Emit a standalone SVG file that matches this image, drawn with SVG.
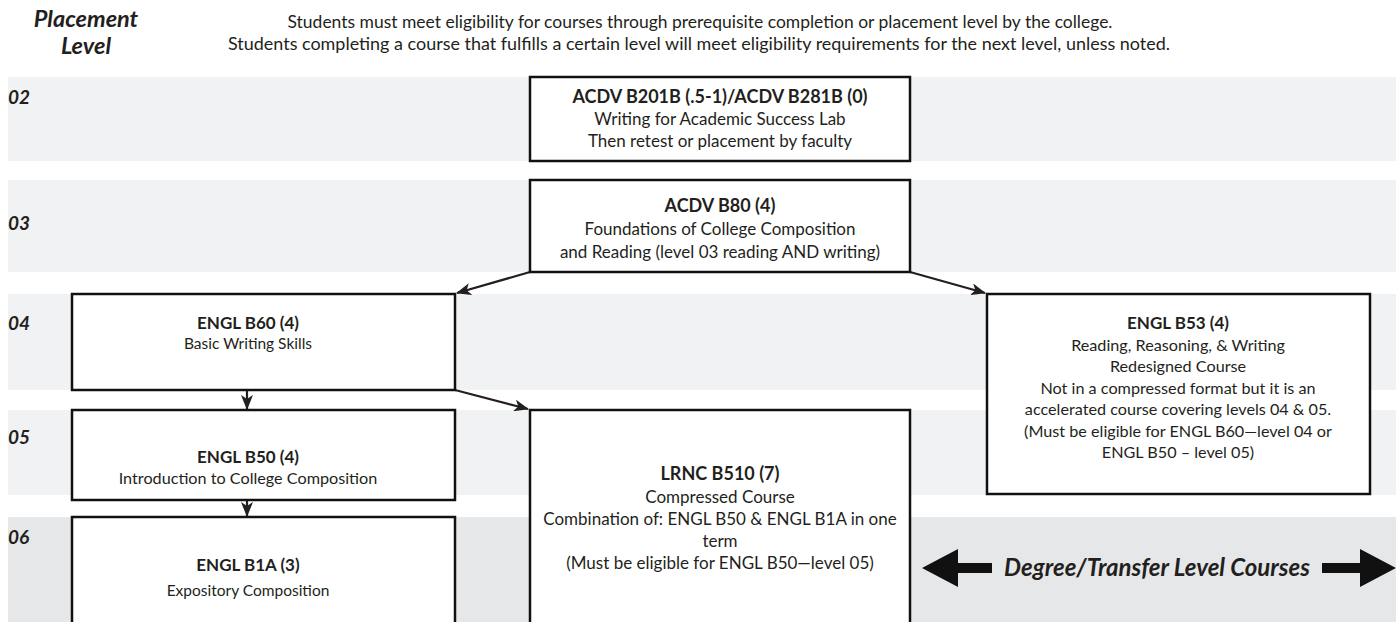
<svg xmlns="http://www.w3.org/2000/svg" width="1396" height="622" viewBox="0 0 1396 622">
<style>
.band{fill:#f1f2f4}
.band6{fill:#e6e7e8}
.box{fill:#fff;stroke:#111;stroke-width:2.5}
.t{font-family:Lato,"Liberation Sans",sans-serif;font-size:15.5px;fill:#231f20;text-anchor:middle}
.tr{font-family:Lato,"Liberation Sans",sans-serif;font-size:16.2px;fill:#231f20;text-anchor:middle}
.tc{font-family:Lato,"Liberation Sans",sans-serif;font-size:17px;fill:#231f20;text-anchor:middle}
.b{font-family:Lato,"Liberation Sans",sans-serif;font-size:17px;font-weight:bold;fill:#231f20;text-anchor:middle}
.bc{font-family:Lato,"Liberation Sans",sans-serif;font-size:18px;font-weight:bold;fill:#231f20;text-anchor:middle}
.hl{font-family:Lato,"Liberation Sans",sans-serif;font-size:17px;fill:#231f20;text-anchor:middle}
.lv{font-family:Lato,"Liberation Sans",sans-serif;font-size:19px;font-weight:bold;font-style:italic;fill:#231f20}
.hd{font-family:Lato,"Liberation Sans",sans-serif;font-size:23.5px;font-weight:bold;font-style:italic;fill:#231f20;text-anchor:middle}
.dt{font-family:Lato,"Liberation Sans",sans-serif;font-size:24px;font-weight:bold;font-style:italic;fill:#231f20;text-anchor:middle}
.con{stroke:#231f20;stroke-width:2.2;fill:none}
</style>
<defs>
<marker id="ah" markerWidth="15" markerHeight="12" refX="14" refY="6" orient="auto" markerUnits="userSpaceOnUse">
<path d="M0,0 L15,6 L0,12 L4,6 z" fill="#231f20"/>
</marker>
</defs>
<rect width="1396" height="622" fill="#fff"/>
<g id="bands">
<rect class="band" x="8" y="77" width="1388" height="84"/>
<rect class="band" x="8" y="180" width="1388" height="92"/>
<rect class="band" x="8" y="294" width="1388" height="96"/>
<rect class="band" x="8" y="410" width="1388" height="85"/>
<rect class="band6" x="8" y="517" width="1388" height="105"/>
</g>
<g id="header">
<text class="hd" x="86" y="27">Placement</text>
<text class="hd" x="86" y="54">Level</text>
<text class="hl" x="700" y="28" textLength="825" lengthAdjust="spacingAndGlyphs">Students must meet eligibility for courses through prerequisite completion or placement level by the college.</text>
<text class="hl" x="699" y="50" textLength="942" lengthAdjust="spacingAndGlyphs">Students completing a course that fulfills a certain level will meet eligibility requirements for the next level, unless noted.</text>
</g>
<g id="levels">
<text class="lv" x="8" y="104">02</text>
<text class="lv" x="8" y="230">03</text>
<text class="lv" x="8" y="330">04</text>
<text class="lv" x="8" y="444">05</text>
<text class="lv" x="8" y="544">06</text>
</g>
<g id="connectors">
<line class="con" x1="530" y1="272" x2="457" y2="293" marker-end="url(#ah)"/>
<line class="con" x1="910" y1="272" x2="985" y2="293" marker-end="url(#ah)"/>
<line class="con" x1="247" y1="390" x2="247" y2="409" marker-end="url(#ah)"/>
<line class="con" x1="455" y1="390" x2="528" y2="409" marker-end="url(#ah)"/>
<line class="con" x1="247" y1="500" x2="247" y2="516" marker-end="url(#ah)"/>
</g>
<g id="acdv-b201b">
<rect class="box" x="530" y="77" width="380" height="84"/>
<text class="bc" x="720" y="103">ACDV B201B (.5-1)/ACDV B281B (0)</text>
<text class="tc" x="720" y="125">Writing for Academic Success Lab</text>
<text class="tc" x="720" y="147">Then retest or placement by faculty</text>
</g>
<g id="acdv-b80">
<rect class="box" x="530" y="180" width="380" height="92"/>
<text class="bc" x="720" y="212">ACDV B80 (4)</text>
<text class="tc" x="720" y="235">Foundations of College Composition</text>
<text class="tc" x="720" y="258">and Reading (level 03 reading AND writing)</text>
</g>
<g id="engl-b60">
<rect class="box" x="72" y="294" width="383" height="96"/>
<text class="b" x="248" y="329">ENGL B60 (4)</text>
<text class="t" x="248" y="349">Basic Writing Skills</text>
</g>
<g id="engl-b53">
<rect class="box" x="987" y="294" width="383" height="200"/>
<text class="b" x="1178" y="329">ENGL B53 (4)</text>
<text class="tr" x="1178" y="351">Reading, Reasoning, &amp; Writing</text>
<text class="tr" x="1178" y="372">Redesigned Course</text>
<text class="tr" x="1178" y="394">Not in a compressed format but it is an</text>
<text class="tr" x="1178" y="415">accelerated course covering levels 04 &amp; 05.</text>
<text class="tr" x="1178" y="437">(Must be eligible for ENGL B60—level 04 or</text>
<text class="tr" x="1178" y="458">ENGL B50 – level 05)</text>
</g>
<g id="engl-b50">
<rect class="box" x="72" y="410" width="383" height="90"/>
<text class="b" x="248" y="463">ENGL B50 (4)</text>
<text class="tr" x="248" y="484">Introduction to College Composition</text>
</g>
<g id="lrnc-b510">
<rect class="box" x="530" y="410" width="380" height="220"/>
<text class="bc" x="720" y="480">LRNC B510 (7)</text>
<text class="tc" x="720" y="503">Compressed Course</text>
<text class="tc" x="720" y="525">Combination of: ENGL B50 &amp; ENGL B1A in one</text>
<text class="tc" x="720" y="547">term</text>
<text class="tc" x="720" y="569">(Must be eligible for ENGL B50—level 05)</text>
</g>
<g id="engl-b1a">
<rect class="box" x="72" y="517" width="383" height="113"/>
<text class="b" x="248" y="571">ENGL B1A (3)</text>
<text class="t" x="248" y="596">Expository Composition</text>
</g>
<g id="degree-transfer">
<path d="M922,568 L958,549 L958,563 L992,563 L992,573 L958,573 L958,587 z" fill="#111"/>
<text class="dt" x="1157" y="576">Degree/Transfer Level Courses</text>
<path d="M1396,568 L1360,549 L1360,563 L1322,563 L1322,573 L1360,573 L1360,587 z" fill="#111"/>
</g>
</svg>
